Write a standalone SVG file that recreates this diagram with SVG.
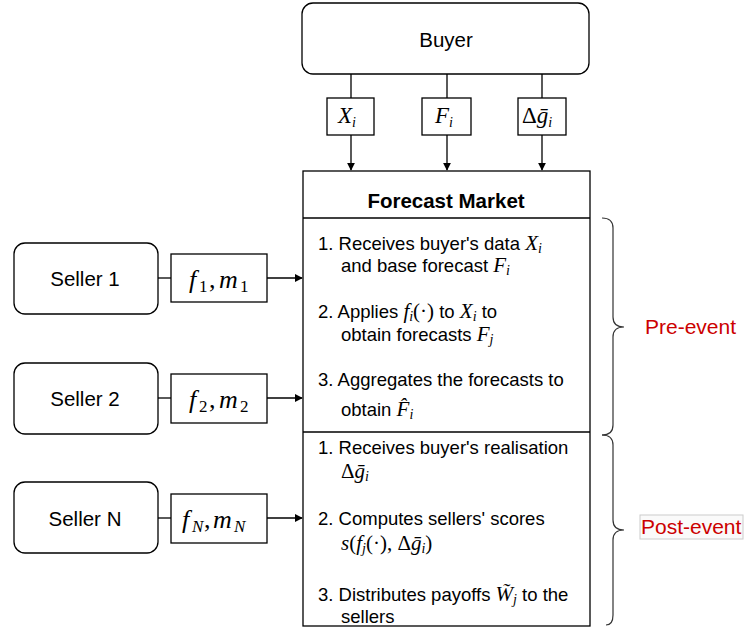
<svg xmlns="http://www.w3.org/2000/svg" width="746" height="632" viewBox="0 0 746 632">
<defs>
<style>
.box{fill:#fff;stroke:#000;stroke-width:1.3}
.n{font-family:"Liberation Sans",Arial,sans-serif;font-size:20.5px;fill:#000}
.t{font-family:"Liberation Sans",Arial,sans-serif;font-size:18.5px;fill:#000}
.b{font-family:"Liberation Sans",Arial,sans-serif;font-size:20.5px;font-weight:bold;fill:#000}
.m{font-family:"Liberation Serif","Times New Roman",serif;font-style:italic;font-size:23px;fill:#000}
.m2{font-family:"Liberation Serif","Times New Roman",serif;font-style:italic;font-size:26px;fill:#000}
.mi{font-family:"Liberation Serif","Times New Roman",serif;font-style:italic;font-size:21px}
.u{font-style:normal}
.s{font-size:14px}
.s2{font-size:17px}
.red{font-family:"Liberation Sans",Arial,sans-serif;font-size:21px;fill:#cc0000}
.ln{fill:none;stroke:#000;stroke-width:1.3}
.br{fill:none;stroke:#333;stroke-width:1.2}
</style>
<marker id="ah" viewBox="0 0 10 10" refX="9" refY="5" markerWidth="8" markerHeight="8" markerUnits="userSpaceOnUse" orient="auto">
<path d="M0,0 L10,5 L0,10 Z" fill="#000"/>
</marker>
</defs>
<rect width="746" height="632" fill="#fff"/>

<g id="connectors">
<line class="ln" x1="351" y1="74" x2="351" y2="98"/>
<line class="ln" x1="447" y1="74" x2="447" y2="98"/>
<line class="ln" x1="542" y1="74" x2="542" y2="98"/>
<line class="ln" x1="351" y1="135" x2="351" y2="170" marker-end="url(#ah)"/>
<line class="ln" x1="447" y1="135" x2="447" y2="170" marker-end="url(#ah)"/>
<line class="ln" x1="542" y1="135" x2="542" y2="170" marker-end="url(#ah)"/>
<line class="ln" x1="158" y1="278" x2="171" y2="278"/>
<line class="ln" x1="158" y1="398" x2="171" y2="398"/>
<line class="ln" x1="158" y1="518" x2="171" y2="518"/>
<line class="ln" x1="267" y1="278" x2="302" y2="278" marker-end="url(#ah)"/>
<line class="ln" x1="267" y1="398" x2="302" y2="398" marker-end="url(#ah)"/>
<line class="ln" x1="267" y1="518" x2="302" y2="518" marker-end="url(#ah)"/>
</g>

<g id="buyer">
<rect class="box" x="302" y="3" width="287" height="71" rx="11"/>
<text class="n" x="446" y="47" text-anchor="middle">Buyer</text>
</g>

<g id="label-x">
<rect class="box" x="327" y="98" width="47" height="37"/>
<text class="m" x="338" y="123">X<tspan class="s" dy="4">i</tspan></text>
</g>
<g id="label-f">
<rect class="box" x="422" y="98" width="49" height="37"/>
<text class="m" x="435" y="123">F<tspan class="s" dy="4">i</tspan></text>
</g>
<g id="label-g">
<rect class="box" x="518" y="98" width="48" height="37"/>
<text class="m" x="522" y="123"><tspan class="u">Δ</tspan>ḡ<tspan class="s" dy="4">i</tspan></text>
</g>

<g id="market">
<rect class="box" x="303" y="171" width="287" height="455"/>
<line class="ln" x1="303" y1="218" x2="590" y2="218"/>
<line class="ln" x1="303" y1="432" x2="590" y2="432"/>
<text class="b" x="446" y="208" text-anchor="middle">Forecast Market</text>
<text class="t" x="318" y="250">1. Receives buyer's data <tspan class="mi">X<tspan class="s" dy="3">i</tspan></tspan></text>
<text class="t" x="341" y="272">and base forecast <tspan class="mi">F<tspan class="s" dy="3">i</tspan></tspan></text>
<text class="t" x="318" y="318">2. Applies <tspan class="mi">f<tspan class="s" dy="3">i</tspan><tspan class="u" dy="-3">(·)</tspan></tspan> to <tspan class="mi">X<tspan class="s" dy="3">i</tspan></tspan><tspan dy="-3"> to</tspan></text>
<text class="t" x="341" y="341">obtain forecasts <tspan class="mi">F<tspan class="s" dy="3">j</tspan></tspan></text>
<text class="t" x="318" y="386">3. Aggregates the forecasts to</text>
<text class="t" x="341" y="416">obtain <tspan class="mi">F̂<tspan class="s" dy="3">i</tspan></tspan></text>
<text class="t" x="318" y="454">1. Receives buyer's realisation</text>
<text class="t" x="341" y="478"><tspan class="mi"><tspan class="u">Δ</tspan>ḡ<tspan class="s" dy="3">i</tspan></tspan></text>
<text class="t" x="318" y="525">2. Computes sellers' scores</text>
<text class="t" x="341" y="550"><tspan class="mi">s<tspan class="u">(</tspan>f<tspan class="s" dy="3">j</tspan><tspan class="u" dy="-3">(·), Δ</tspan>ḡ<tspan class="s" dy="3">i</tspan><tspan class="u" dy="-3">)</tspan></tspan></text>
<text class="t" x="318" y="601">3. Distributes payoffs <tspan class="mi">W̃<tspan class="s" dy="3">j</tspan></tspan><tspan dy="-3"> to the</tspan></text>
<text class="t" x="341" y="623">sellers</text>
</g>

<g id="seller1">
<rect class="box" x="14" y="243" width="144" height="71" rx="11"/>
<text class="n" x="85" y="286" text-anchor="middle">Seller 1</text>
</g>
<g id="label-s1">
<rect class="box" x="171" y="254" width="96" height="48"/>
<text class="m2" y="288"><tspan x="189">f</tspan><tspan class="u s2" x="199" dy="4">1</tspan><tspan class="u" x="209" dy="-4">,</tspan><tspan x="219">m</tspan><tspan class="u s2" x="240" dy="4">1</tspan></text>
</g>

<g id="seller2">
<rect class="box" x="14" y="363" width="144" height="71" rx="11"/>
<text class="n" x="85" y="406" text-anchor="middle">Seller 2</text>
</g>
<g id="label-s2">
<rect class="box" x="171" y="374" width="96" height="49"/>
<text class="m2" y="408"><tspan x="189">f</tspan><tspan class="u s2" x="199" dy="4">2</tspan><tspan class="u" x="209" dy="-4">,</tspan><tspan x="219">m</tspan><tspan class="u s2" x="240" dy="4">2</tspan></text>
</g>

<g id="sellerN">
<rect class="box" x="14" y="482" width="144" height="71" rx="11"/>
<text class="n" x="85" y="526" text-anchor="middle">Seller N</text>
</g>
<g id="label-sN">
<rect class="box" x="171" y="494" width="96" height="49"/>
<text class="m2" y="528"><tspan x="182">f</tspan><tspan class="s2" x="192" dy="4">N</tspan><tspan class="u" x="204" dy="-4">,</tspan><tspan x="213">m</tspan><tspan class="s2" x="234" dy="4">N</tspan></text>
</g>

<g id="pre-event">
<path class="br" d="M602,218 Q613,218 613,228 L613,317 Q613,327 624,327 Q613,327 613,337 L613,425 Q613,435 602,435"/>
<text class="red" x="645" y="334">Pre-event</text>
</g>
<g id="post-event">
<path class="br" d="M613,445 Q613,435 602,435 M613,445 L613,520 Q613,530 624,530 Q613,530 613,540 L613,615 Q613,625 606,625"/>
<rect x="640" y="515" width="103" height="24" fill="#fafafa" stroke="#cccccc" stroke-width="1"/>
<text class="red" x="641" y="534">Post-event</text>
</g>
</svg>
